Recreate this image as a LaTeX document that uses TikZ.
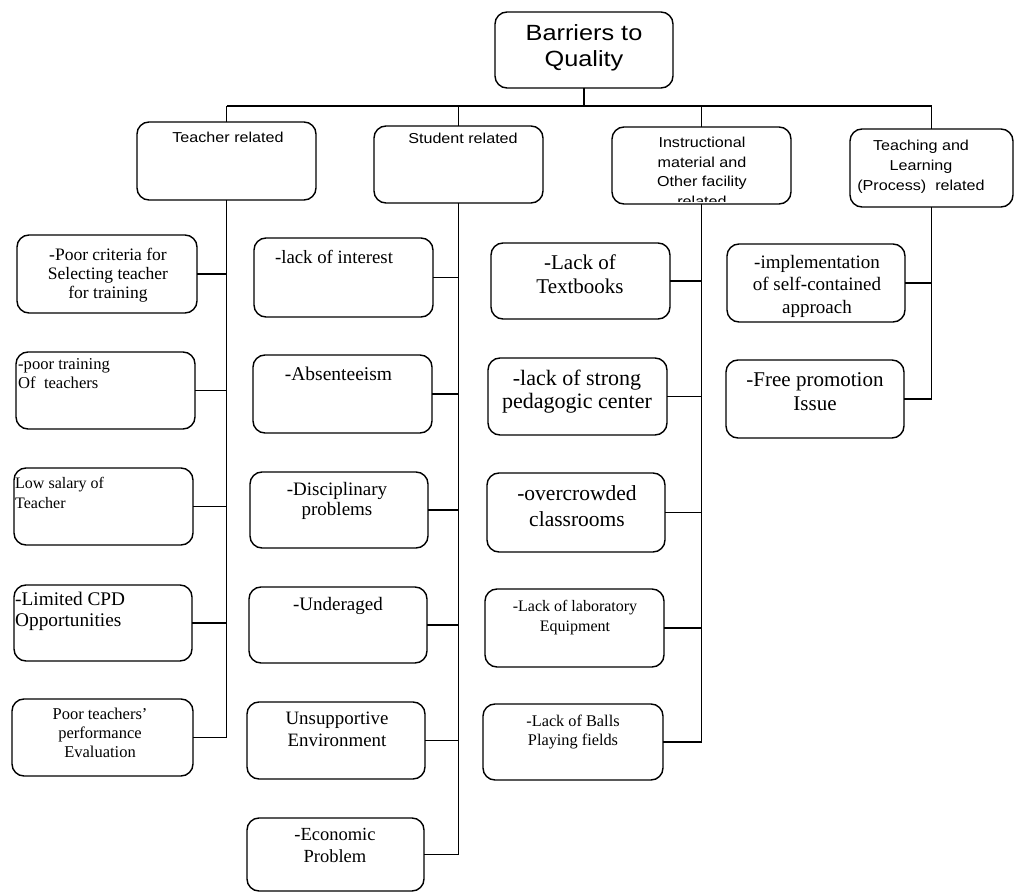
\documentclass[tikz,border=0pt]{standalone}
\usepackage{fontspec}
\setmainfont{Liberation Serif}
\newfontfamily\hdr[FakeStretch=1.12]{Liberation Sans}
\newfontfamily\ttl[FakeStretch=1.15]{Liberation Sans}
\newcommand\fs[2]{\fontsize{#1}{#2}\selectfont}
\begin{document}
\begin{tikzpicture}[x=1pt,y=-1pt,
  box/.style={draw, line width=1.4pt, rounded corners=12pt, inner sep=0pt, outer sep=0pt},
  conn/.style={line width=1.1pt},
  txt/.style={inner sep=0pt, align=center, anchor=north},
  ltxt/.style={inner sep=0pt, align=left, anchor=north west}]
\useasboundingbox (0,0) rectangle (1015,893);

% root and category boxes
\node[box, minimum width=178, minimum height=76] (top) at (584,50) {};
\node[box, minimum width=179, minimum height=78] (T) at (226.5,161) {};
\node[box, minimum width=169, minimum height=77] (S) at (458.5,164.5) {};
\node[box, minimum width=179, minimum height=77] (I) at (701.5,165.5) {};
\node[box, minimum width=163, minimum height=78] (P) at (931.5,168) {};

\node[txt, font=\ttl\fs{22}{26}] (toptxt) at (584,24) {Barriers to\\Quality};
\node[txt, font=\hdr\fs{14.4}{19.5}] (Ttxt) at (228,132) {Teacher related};
\node[txt, font=\hdr\fs{14.4}{19.5}] (Stxt) at (463,133) {Student related};
\begin{scope}
  \clip[rounded corners=12pt] ([yshift=2pt]I.south west) rectangle (I.north east);
  \node[txt, font=\hdr\fs{14.4}{19.5}] (Itxt) at (702,137) {Instructional\\material and\\Other facility\\related};
\end{scope}
\node[txt, font=\hdr\fs{14.4}{19.8}] (Ptxt) at (921,140) {Teaching and\\Learning\\(Process)\ \ related};

% teacher related
\node[box, minimum width=180, minimum height=78] (t1) at (107,274) {};
\node[box, minimum width=179, minimum height=77] (t2) at (105.5,390.5) {};
\node[box, minimum width=179, minimum height=77] (t3) at (103.5,506.5) {};
\node[box, minimum width=178, minimum height=76] (t4) at (103,623) {};
\node[box, minimum width=181, minimum height=77] (t5) at (102.5,737.5) {};
\node[txt, font=\fs{17.5}{18.8}] (t1txt) at (108,248) {-Poor criteria for\\Selecting teacher\\for training};
\node[ltxt, font=\fs{16.6}{19}] (t2txt) at (18,358) {-poor training\\Of\ \ teachers};
\node[ltxt, font=\fs{16}{20}] (t3txt) at (15,477) {Low salary of\\Teacher};
\node[ltxt, font=\fs{19.3}{20.5}] (t4txt) at (15,592) {-Limited CPD\\Opportunities};
\node[txt, font=\fs{16.5}{19}] (t5txt) at (100,708) {Poor teachers'\\performance\\Evaluation};

% student related
\node[box, minimum width=179, minimum height=79] (s1) at (343.5,277.5) {};
\node[box, minimum width=179, minimum height=78] (s2) at (342.5,394) {};
\node[box, minimum width=178, minimum height=76] (s3) at (339,510) {};
\node[box, minimum width=178, minimum height=76] (s4) at (338,625) {};
\node[box, minimum width=178, minimum height=77] (s5) at (336,740.5) {};
\node[box, minimum width=177, minimum height=73] (s6) at (335.5,854.5) {};
\node[txt, font=\fs{18.8}{21}] (s1txt) at (334,250) {-lack of interest};
\node[txt, font=\fs{19.5}{21}] (s2txt) at (338.5,367) {-Absenteeism};
\node[txt, font=\fs{19}{20.5}] (s3txt) at (337,482) {-Disciplinary\\problems};
\node[txt, font=\fs{19}{21}] (s4txt) at (338,597) {-Underaged};
\node[txt, font=\fs{18.9}{21.7}] (s5txt) at (337,712) {Unsupportive\\Environment};
\node[txt, font=\fs{18.5}{21.7}] (s6txt) at (335,828) {-Economic\\Problem};

% instructional material and facilities
\node[box, minimum width=179, minimum height=76] (i1) at (580.5,281) {};
\node[box, minimum width=179, minimum height=77] (i2) at (577.5,396.5) {};
\node[box, minimum width=178, minimum height=79] (i3) at (576,512.5) {};
\node[box, minimum width=179, minimum height=78] (i4) at (574.5,628) {};
\node[box, minimum width=180, minimum height=76] (i5) at (573,742) {};
\node[txt, font=\fs{21}{23.3}] (i1txt) at (580,255) {-Lack of\\Textbooks};
\node[txt, font=\fs{22}{22.5}] (i2txt) at (577,370) {-lack of strong\\pedagogic center};
\node[txt, font=\fs{21.5}{26}] (i3txt) at (577,485) {-overcrowded\\classrooms};
\node[txt, font=\fs{16}{20}] (i4txt) at (575,600) {-Lack of laboratory\\Equipment};
\node[txt, font=\fs{16.3}{19}] (i5txt) at (573,715) {-Lack of Balls\\Playing fields};

% teaching and learning process
\node[box, minimum width=178, minimum height=78] (p1) at (816,283) {};
\node[box, minimum width=178, minimum height=78] (p2) at (815,399) {};
\node[txt, font=\fs{19}{22.5}] (p1txt) at (817,255) {-implementation\\of self-contained\\approach};
\node[txt, font=\fs{21}{24}] (p2txt) at (815,372) {-Free promotion\\Issue};

% connectors
\coordinate (bus) at (584,106);
\draw[conn] (top.south) -- (bus);
\draw[conn] (T.north |- bus) -- (P.north |- bus);
\foreach \h in {T,S,I,P} \draw[conn] (\h.north) -- (\h.north |- bus);

\draw[conn] (T.south) -- (T.south |- t5.east);
\foreach \c in {t1,t2,t3,t4,t5} \draw[conn] (\c.east) -- (\c.east -| T.south);
\draw[conn] (S.south) -- (S.south |- s6.east);
\foreach \c in {s1,s2,s3,s4,s5,s6} \draw[conn] (\c.east) -- (\c.east -| S.south);
\draw[conn] (I.south) -- (I.south |- i5.east);
\foreach \c in {i1,i2,i3,i4,i5} \draw[conn] (\c.east) -- (\c.east -| I.south);
\draw[conn] (P.south) -- (P.south |- p2.east);
\foreach \c in {p1,p2} \draw[conn] (\c.east) -- (\c.east -| P.south);
\end{tikzpicture}
\end{document}
